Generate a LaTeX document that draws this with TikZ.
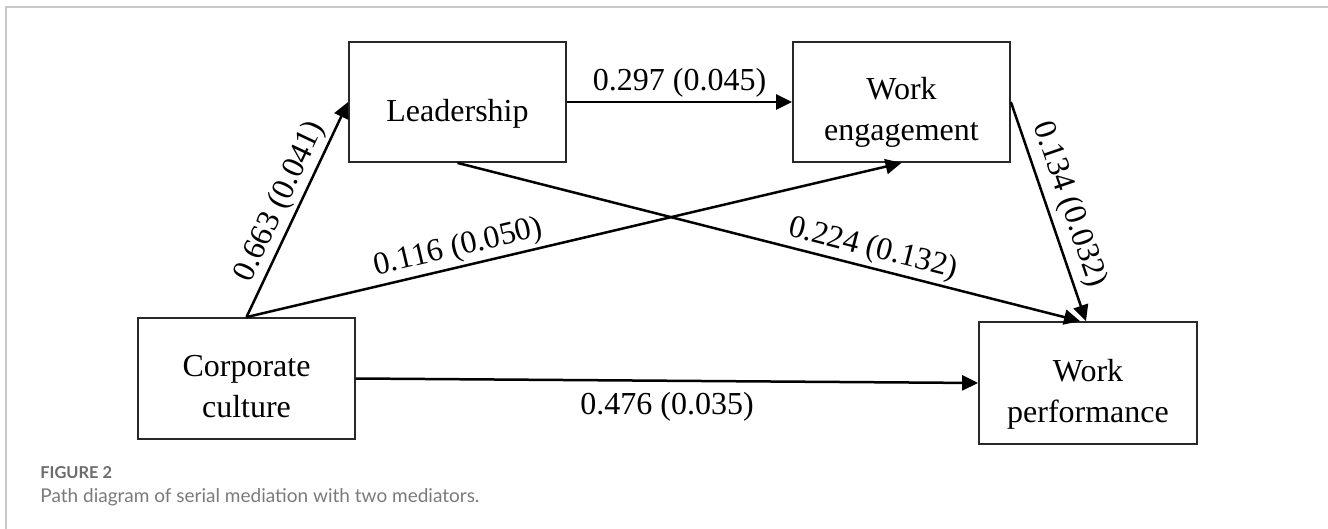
\documentclass[tikz,border=0pt]{standalone}
\usepackage{fontspec}
\setmainfont{Liberation Serif}
\newfontfamily\capfont{Lato}
\usetikzlibrary{arrows.meta}
\definecolor{framegray}{RGB}{200,200,200}
\definecolor{capgray}{RGB}{108,108,108}
\definecolor{capgraylight}{RGB}{122,122,122}
\definecolor{boxline}{RGB}{40,40,40}
\begin{document}
\begin{tikzpicture}[x=0.5pt,y=-0.5pt,
  box/.style={draw=boxline, line width=0.9pt, rectangle, inner sep=0pt},
  boxtext/.style={anchor=north, inner sep=0pt, align=center, font=\fontsize{16}{20.5}\selectfont},
  patharrow/.style={line width=1.25pt, -{Triangle[length=8pt,width=7.5pt]}},
  coef/.style={font=\fontsize{16}{19}\selectfont, inner sep=1.5pt},
]
\useasboundingbox (0,0) rectangle (1328,529);
% frame
\draw[framegray, line width=1pt] (5.8,529) -- (5.8,7) -- (1328,7);

% boxes
\node[box, minimum width=108.5pt, minimum height=60pt] (lead) at (457.5,102) {};
\node[box, minimum width=108.5pt, minimum height=60pt] (we) at (901.5,102) {};
\node[box, minimum width=108.5pt, minimum height=60.5pt] (cc) at (246.5,378.5) {};
\node[box, minimum width=109pt, minimum height=61pt] (wp) at (1088,383) {};

% box texts
\node[boxtext] (lead-t) at (457.5,99) {Leadership};
\node[boxtext] (we-t) at (901.5,77) {Work\\engagement};
\node[boxtext] (cc-t) at (246.5,355) {Corporate\\culture};
\node[boxtext] (wp-t) at (1088,359) {Work\\performance};

% paths
\draw[patharrow] (cc.north) -- node[coef, sloped, above, pos=0.5] (l1) {0.663 (0.041)} (lead.west);
\draw[patharrow] (cc.north) -- node[coef, sloped, above, pos=0.33] (l2) {0.116 (0.050)} (we.south);
\draw[patharrow] (lead.east) -- node[coef, above, pos=0.5] (l3) {0.297 (0.045)} (we.west);
\draw[patharrow] (lead.south) -- node[coef, sloped, above, pos=0.66] (l4) {0.224 (0.132)} ([xshift=-4pt]wp.north);
\draw[patharrow] (we.east) -- node[coef, sloped, above, pos=0.5, inner sep=3pt] (l5) {0.134 (0.032)} ([xshift=-1pt]wp.north);
\draw[patharrow] (cc.east) -- node[coef, below, pos=0.5, inner sep=5pt] (l6) {0.476 (0.035)} (wp.west);

% caption
\node[anchor=base west, inner sep=0pt, text=capgray, font=\capfont\bfseries\fontsize{8.2}{9}\selectfont] (figlabel) at (40,478) {FIGURE 2};
\node[anchor=base west, inner sep=0pt, text=capgraylight, font=\capfont\fontsize{9.5}{11}\selectfont] (caption) at (40,502) {Path diagram of serial mediation with two mediators.};
\end{tikzpicture}
\end{document}
